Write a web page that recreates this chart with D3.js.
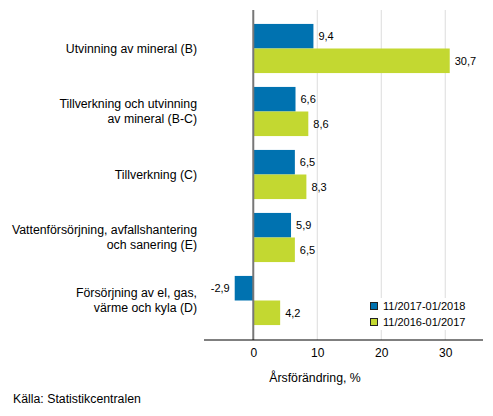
<!DOCTYPE html>
<html>
<head>
<meta charset="utf-8">
<script src="https://cdn.jsdelivr.net/npm/d3@7"></script>
<style>
  body { margin: 0; background: #fff; }
  text { font-family: "Liberation Sans", Arial, sans-serif; fill: #000; }
</style>
</head>
<body>
<svg id="chart"></svg>
<script>
const categories = [
  ['Utvinning av mineral (B)'],
  ['Tillverkning och utvinning', 'av mineral (B-C)'],
  ['Tillverkning (C)'],
  ['Vattenförsörjning, avfallshantering', 'och sanering (E)'],
  ['Försörjning av el, gas,', 'värme och kyla (D)']
];
const seriesNames = ['11/2017-01/2018', '11/2016-01/2017'];
const series2018 = [9.4, 6.6, 6.5, 5.9, -2.9];
const series2017 = [30.7, 8.6, 8.3, 6.5, 4.2];
const xTicks = [0, 10, 20, 30];
const colors = ['#0072b0', '#c3d831'];

const width = 493, height = 416;
const svg = d3.select('#chart').attr('width', width).attr('height', height);

const x = d3.scaleLinear().domain([-7.7, 35.9]).range([204, 483]);
const keys = categories.map((c, i) => i);
const y = d3.scaleBand().domain(keys).range([17, 332]).paddingInner(0.22).paddingOuter(0.11);
const sub = d3.scaleBand().domain([0, 1]).range([0, y.bandwidth()]);

const plotTop = 10, plotBottom = 340;
const fmt = v => d3.format('.1f')(v).replace('.', ',').replace('\u2212', '-');

// grid
svg.append('g')
  .selectAll('line')
  .data(xTicks.filter(d => d !== 0))
  .enter()
  .append('line')
  .attr('x1', d => x(d)).attr('x2', d => x(d))
  .attr('y1', plotTop).attr('y2', plotBottom)
  .attr('stroke', '#dcdcdc').attr('stroke-width', 1);

const rows = categories.map((c, i) => ({ i, vals: [series2018[i], series2017[i]] }));

// bars
rows.forEach(r => {
  r.vals.forEach((v, s) => {
    svg.append('rect')
      .attr('x', x(Math.min(0, v)))
      .attr('y', y(r.i) + sub(s))
      .attr('width', Math.abs(x(v) - x(0)))
      .attr('height', sub.bandwidth())
      .attr('fill', colors[s]);

    svg.append('text')
      .attr('x', v < 0 ? x(v) - 5 : x(v) + 5)
      .attr('y', y(r.i) + sub(s) + sub.bandwidth() / 2)
      .attr('dy', '0.35em')
      .attr('text-anchor', v < 0 ? 'end' : 'start')
      .style('font-size', '11px')
      .text(fmt(v));
  });
});

// zero line
svg.append('line')
  .attr('x1', x(0)).attr('x2', x(0))
  .attr('y1', plotTop).attr('y2', plotBottom)
  .attr('stroke', '#777').attr('stroke-width', 2);

// x axis
const xAxis = svg.append('g')
  .attr('transform', `translate(0,${plotBottom})`)
  .call(d3.axisBottom(x).tickValues(xTicks).tickSize(0).tickPadding(8));
xAxis.select('.domain').attr('stroke', '#000').attr('d', `M${x.range()[0]},0H${x.range()[1]}`);
xAxis.selectAll('text').style('font-size', '12px').attr('fill', '#000');

svg.append('text')
  .attr('x', 315).attr('y', 382)
  .attr('text-anchor', 'middle')
  .style('font-size', '12.3px')
  .text('Årsförändring, %');

// category labels
rows.forEach(r => {
  const lines = categories[r.i];
  const cy = y(r.i) + y.bandwidth() / 2;
  const t = svg.append('text')
    .attr('text-anchor', 'end')
    .style('font-size', '12.3px');
  lines.forEach((l, k) => {
    t.append('tspan')
      .attr('x', 197)
      .attr('y', cy + (k - (lines.length - 1) / 2) * 15)
      .attr('dy', '0.35em')
      .text(l);
  });
});

// legend
const legend = svg.append('g').attr('transform', 'translate(367,298)');
legend.append('rect').attr('width', 113).attr('height', 32).attr('fill', '#fff');
seriesNames.forEach((n, s) => {
  legend.append('rect')
    .attr('x', 3.5).attr('y', 4.5 + s * 16)
    .attr('width', 7).attr('height', 7)
    .attr('fill', colors[s]).attr('stroke', '#222').attr('stroke-width', 1);
  legend.append('text')
    .attr('x', 16).attr('y', 8 + s * 16)
    .attr('dy', '0.35em')
    .style('font-size', '11px')
    .text(n);
});

svg.append('text')
  .attr('x', 13).attr('y', 403)
  .style('font-size', '12.3px')
  .text('Källa: Statistikcentralen');
</script>
</body>
</html>
